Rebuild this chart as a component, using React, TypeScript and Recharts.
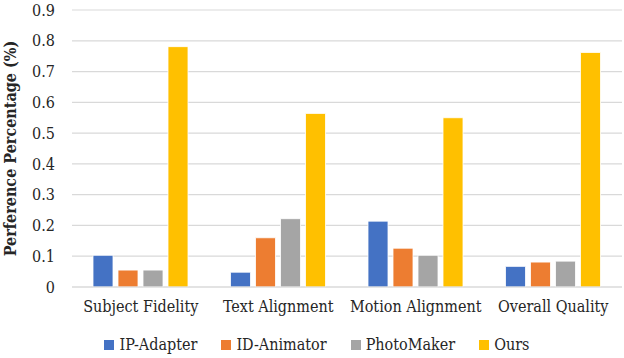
import { BarChart, Bar, XAxis, YAxis, CartesianGrid, Legend } from 'recharts'

const categories = ['Subject Fidelity', 'Text Alignment', 'Motion Alignment', 'Overall Quality']
const ipAdapter = [0.103, 0.048, 0.214, 0.067]
const idAnimator = [0.055, 0.16, 0.126, 0.081]
const photoMaker = [0.055, 0.222, 0.103, 0.084]
const ours = [0.781, 0.564, 0.55, 0.762]
const yTicks = [0, 0.1, 0.2, 0.3, 0.4, 0.5, 0.6, 0.7, 0.8, 0.9]

const series = [
  { key: 'ip', name: 'IP-Adapter', color: '#4472C4' },
  { key: 'id', name: 'ID-Animator', color: '#ED7D31' },
  { key: 'pm', name: 'PhotoMaker', color: '#A5A5A5' },
  { key: 'ours', name: 'Ours', color: '#FFC000' },
]

const data = categories.map((name, i) => ({
  name,
  ip: ipAdapter[i],
  id: idAnimator[i],
  pm: photoMaker[i],
  ours: ours[i],
}))

// no Times-metric font in the sandbox, condensed DejaVu Serif is closest
const FONT = "'DejaVu Serif Condensed', 'DejaVu Serif', serif"
const TEXT = '#262626'
const FS = 16

function LegendContent() {
  return (
    <div style={{ display: 'flex', justifyContent: 'center', gap: 24, paddingTop: 12, paddingLeft: 12, fontFamily: FONT, fontSize: FS, color: TEXT }}>
      {series.map((s) => (
        <div key={s.key} style={{ display: 'flex', alignItems: 'center', gap: 5 }}>
          <span style={{ width: 10, height: 10, background: s.color, display: 'inline-block' }} />
          <span>{s.name}</span>
        </div>
      ))}
    </div>
  )
}

export default function App() {
  return (
    <div style={{ position: 'absolute', left: 0, top: 0, width: 624, height: 358, background: '#fff', fontFamily: FONT }}>
      <BarChart
        width={624}
        height={358}
        data={data}
        margin={{ top: 10, right: 2, left: 0, bottom: 0 }}
        barCategoryGap={21}
        barGap={5}
        style={{ fontFamily: FONT }}
      >
        <CartesianGrid vertical={false} stroke="#d9d9d9" strokeWidth={1.2} />
        <XAxis
          dataKey="name"
          tickLine={false}
          axisLine={{ stroke: '#d9d9d9', strokeWidth: 1.2 }}
          tickSize={0}
          tickMargin={14}
          height={36}
          interval={0}
          tick={{ fontFamily: FONT, fontSize: FS, fill: TEXT }}
        />
        <YAxis
          domain={[0, 0.9]}
          ticks={yTicks}
          width={72}
          tickLine={false}
          axisLine={false}
          tickSize={0}
          tickMargin={17}
          tickFormatter={(v) => String(v)}
          tick={{ fontFamily: FONT, fontSize: FS, fill: TEXT }}
          label={{
            value: 'Perference Percentage (%)',
            angle: -90,
            position: 'insideLeft',
            offset: 10,
            style: { fontFamily: FONT, fontSize: FS, fontWeight: 'bold', fill: TEXT, textAnchor: 'middle' },
          }}
        />
        <Legend verticalAlign="bottom" height={35} content={<LegendContent />} />
        {series.map((s) => (
          <Bar
            key={s.key}
            dataKey={s.key}
            name={s.name}
            fill={s.color}
            stroke="#ffffff"
            strokeWidth={0.8}
            barSize={20}
            isAnimationActive={false}
          />
        ))}
      </BarChart>
    </div>
  )
}
